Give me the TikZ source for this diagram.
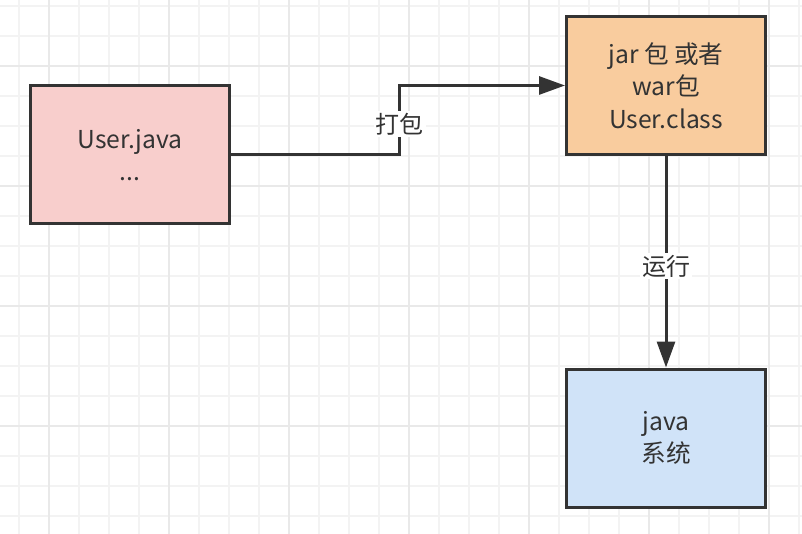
\documentclass[tikz,border=0pt]{standalone}
\usepackage{fontspec}
\setmainfont{Noto Sans CJK SC}
\usepackage{xcolor}
\usepackage{tikz}
\usetikzlibrary{arrows.meta}

\definecolor{gridminor}{HTML}{F3F3F3}
\definecolor{gridmajor}{HTML}{E9E9E9}
\definecolor{ink}{HTML}{333333}
\definecolor{pinkfill}{HTML}{F8CECC}
\definecolor{orangefill}{HTML}{F9CC9E}
\definecolor{bluefill}{HTML}{D0E3F8}

\begin{document}
\begin{tikzpicture}[x=0.75pt, y=-0.75pt,
    box/.style={draw=ink, line width=2.25pt, minimum width=149.25pt, minimum height=103.5pt,
        align=center, text=ink, font=\fontsize{18.5}{24.4}\selectfont},
    conn/.style={draw=ink, line width=2.25pt, -{Triangle[length=19.5pt, width=13.5pt]}},
    lbl/.style={fill=white, text=ink, inner sep=1.5pt, font=\fontsize{18}{20}\selectfont}]
    \useasboundingbox (0,0) rectangle (802,534);

    % Grid
    \foreach \x in {19,49,...,799}
        \draw[gridminor, line width=1.2pt] (\x,0) -- (\x,534);
    \foreach \y in {6,36,...,516}
        \draw[gridminor, line width=1.2pt] (0,\y) -- (802,\y);
    \foreach \x in {49,169,...,769}
        \draw[gridmajor, line width=1.2pt] (\x,0) -- (\x,534);
    \foreach \y in {66,186,306,426}
        \draw[gridmajor, line width=1.2pt] (0,\y) -- (802,\y);

    % Boxes
    \node[box, fill=pinkfill] (user) at (130,155) {User.java\\...};
    \node[box, fill=orangefill] (pkg) at (666,85.5) {jar 包 或者\\war包\\User.class};
    \node[box, fill=bluefill] (sys) at (666,438) {java\\系统};

    % Connectors
    \draw[conn] (user.east) -- ++(168.5,0) |- node[lbl, pos=0.22] {打包} (pkg.west);
    \draw[conn] (pkg.south) -- node[lbl, pos=0.52] {运行} (sys.north);
\end{tikzpicture}
\end{document}
